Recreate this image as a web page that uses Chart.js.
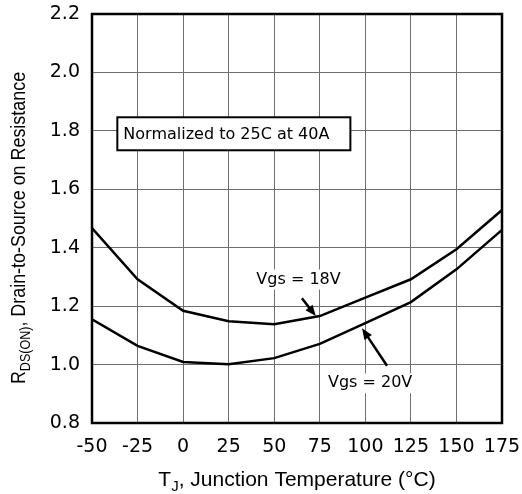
<!DOCTYPE html>
<html>
<head>
<meta charset="utf-8">
<script src="https://cdn.jsdelivr.net/npm/chart.js@4"></script>
<style>
  html, body { margin: 0; padding: 0; background: #fff; }
  #wrap { width: 522px; height: 494px; position: relative; }
</style>
</head>
<body>
<div id="wrap"><canvas id="rds-chart"></canvas></div>
<script>
// Junction temperature (°C) and normalized RDS(on)
const temps = [-50, -25, 0, 25, 50, 75, 100, 125, 150, 175];
const vgs18 = [1.467, 1.292, 1.184, 1.148, 1.138, 1.166, 1.229, 1.292, 1.395, 1.529];
const vgs20 = [1.155, 1.064, 1.009, 1.001, 1.022, 1.071, 1.142, 1.214, 1.326, 1.461];
const seriesNames = ['Vgs = 18V', 'Vgs = 20V'];
const noteText = 'Normalized to 25C at 40A';

const TICK_FONT = 'DejaVu Sans';
const TITLE_FONT = '"Liberation Sans", Arial, sans-serif';
const GRID = '#6e6e6e';

function pts(xs, ys) {
  return xs.map((x, i) => ({ x: x, y: ys[i] }));
}

// draws frame, annotations, arrows and axis titles with subscripts
const extras = {
  id: 'extras',
  afterDraw(chart) {
    const ctx = chart.ctx;
    const xs = chart.scales.x, ys = chart.scales.y;
    const a = chart.chartArea;
    ctx.save();

    // label with white backing
    function label(text, x, y) {
      ctx.font = '16px "' + TICK_FONT + '"';
      const w = ctx.measureText(text).width;
      ctx.fillStyle = '#fff';
      ctx.fillRect(x - 2, y - 10, w + 4, 20);
      ctx.fillStyle = '#000';
      ctx.textBaseline = 'middle';
      ctx.textAlign = 'left';
      ctx.fillText(text, x, y);
    }

    function arrow(t0, v0, t1, v1) {
      const x0 = xs.getPixelForValue(t0), y0 = ys.getPixelForValue(v0);
      const x1 = xs.getPixelForValue(t1), y1 = ys.getPixelForValue(v1);
      const ang = Math.atan2(y1 - y0, x1 - x0);
      const len = 11, half = 4.5;
      ctx.strokeStyle = '#000';
      ctx.lineWidth = 2.5;
      ctx.beginPath();
      ctx.moveTo(x0, y0);
      ctx.lineTo(x1 - Math.cos(ang) * len * 0.8, y1 - Math.sin(ang) * len * 0.8);
      ctx.stroke();
      ctx.fillStyle = '#000';
      ctx.beginPath();
      ctx.moveTo(x1, y1);
      ctx.lineTo(x1 - Math.cos(ang) * len - Math.sin(ang) * half, y1 - Math.sin(ang) * len + Math.cos(ang) * half);
      ctx.lineTo(x1 - Math.cos(ang) * len + Math.sin(ang) * half, y1 - Math.sin(ang) * len - Math.cos(ang) * half);
      ctx.closePath();
      ctx.fill();
    }

    // note box
    ctx.font = '16px "' + TICK_FONT + '"';
    const bx = xs.getPixelForValue(-36.1);
    const by = ys.getPixelForValue(1.79);
    const tw = ctx.measureText(noteText).width;
    ctx.fillStyle = '#fff';
    ctx.fillRect(bx, by - 16.5, tw + 27, 33);
    ctx.strokeStyle = '#000';
    ctx.lineWidth = 2;
    ctx.strokeRect(bx, by - 16.5, tw + 27, 33);
    ctx.fillStyle = '#000';
    ctx.textBaseline = 'middle';
    ctx.textAlign = 'left';
    ctx.fillText(noteText, bx + 6, by + 1);

    // series labels and arrows
    label(seriesNames[0], xs.getPixelForValue(40.2), ys.getPixelForValue(1.291));
    arrow(65.2, 1.227, 72.8, 1.166);
    label(seriesNames[1], xs.getPixelForValue(79.5), ys.getPixelForValue(0.936));
    arrow(111.9, 0.996, 98.2, 1.124);

    // frame
    ctx.strokeStyle = '#000';
    ctx.lineWidth = 2.5;
    ctx.strokeRect(a.left, a.top, a.right - a.left, a.bottom - a.top);

    // axis titles with subscripts
    ctx.fillStyle = '#000';
    ctx.textBaseline = 'alphabetic';
    ctx.textAlign = 'left';
    function partsWidth(parts, size) {
      let w = 0;
      parts.forEach(p => {
        ctx.font = (p.sub ? Math.round(size * 0.7) : size) + 'px ' + TITLE_FONT;
        w += ctx.measureText(p.t).width;
      });
      return w;
    }
    function drawParts(parts, x, y, size) {
      parts.forEach(p => {
        ctx.font = (p.sub ? Math.round(size * 0.7) : size) + 'px ' + TITLE_FONT;
        ctx.fillText(p.t, x, y + (p.sub ? size * 0.25 : 0));
        x += ctx.measureText(p.t).width;
      });
    }
    // T_J, Junction Temperature (°C)
    const xParts = [{ t: 'T' }, { t: 'J', sub: true }, { t: ', Junction Temperature (°C)' }];
    const xw = partsWidth(xParts, 21);
    drawParts(xParts, (a.left + a.right) / 2 - xw / 2, 486, 21);

    // R_DS(ON), Drain-to-Source on Resistance (slightly condensed)
    const yParts = [{ t: 'R' }, { t: 'DS(ON)', sub: true }, { t: ', Drain-to-Source on Resistance' }];
    const yw = partsWidth(yParts, 20);
    ctx.translate(25, 228);
    ctx.rotate(-Math.PI / 2);
    ctx.scale(0.895, 1);
    drawParts(yParts, -yw / 2, 0, 20);

    ctx.restore();
  }
};

new Chart(document.getElementById('rds-chart'), {
  type: 'line',
  data: {
    datasets: [
      {
        label: seriesNames[0],
        data: pts(temps, vgs18),
        borderColor: '#000',
        borderWidth: 2.5,
        pointRadius: 0,
        tension: 0,
        fill: false
      },
      {
        label: seriesNames[1],
        data: pts(temps, vgs20),
        borderColor: '#000',
        borderWidth: 2.5,
        pointRadius: 0,
        tension: 0,
        fill: false
      }
    ]
  },
  options: {
    responsive: true,
    maintainAspectRatio: false,
    animation: false,
    layout: { padding: { top: 14, right: 20, left: 0, bottom: 0 } },
    plugins: {
      legend: { display: false },
      tooltip: { enabled: false },
      title: { display: false }
    },
    scales: {
      x: {
        type: 'linear',
        min: -50,
        max: 175,
        ticks: {
          stepSize: 25,
          padding: 13,
          color: '#000',
          font: { family: TICK_FONT, size: 19 },
          maxRotation: 0,
          autoSkip: false
        },
        grid: { color: GRID, lineWidth: 1, drawTicks: false },
        border: { display: false },
        afterFit(scale) {
          scale.height = 71;
          scale.paddingLeft = 0;
          scale.paddingRight = 0;
        }
      },
      y: {
        min: 0.8,
        max: 2.2,
        ticks: {
          stepSize: 0.2,
          padding: 12,
          color: '#000',
          font: { family: TICK_FONT, size: 19 },
          callback: v => v.toFixed(1)
        },
        grid: { color: GRID, lineWidth: 1, drawTicks: false },
        border: { display: false },
        afterFit(scale) {
          scale.width = 92;
          scale.paddingTop = 0;
          scale.paddingBottom = 0;
        }
      }
    }
  },
  plugins: [extras]
});
</script>
</body>
</html>
